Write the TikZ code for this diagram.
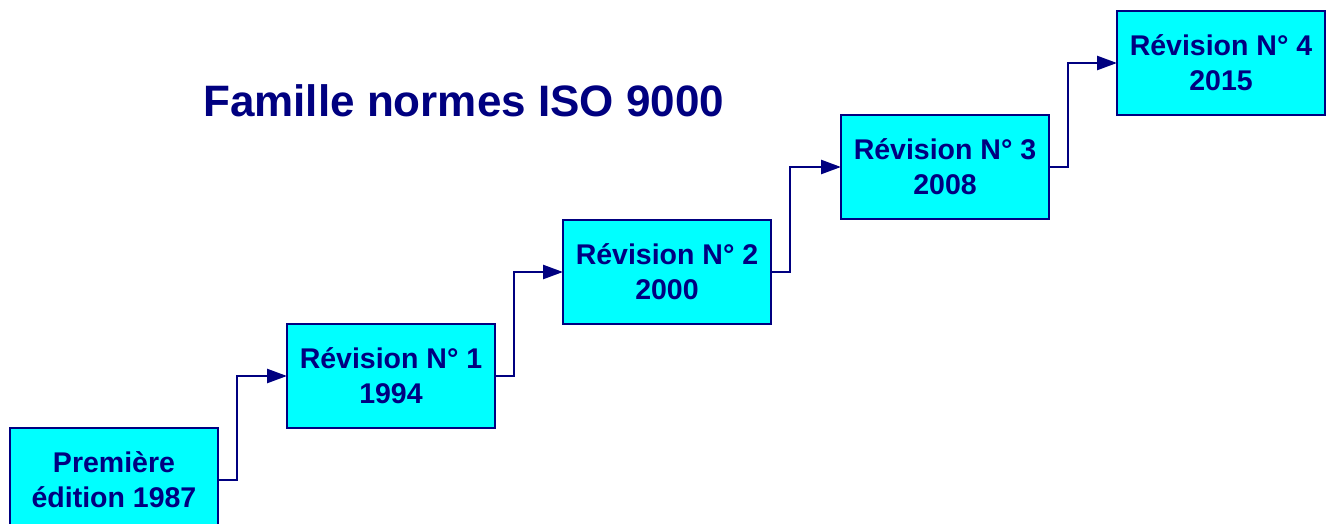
\documentclass[tikz,border=0pt]{standalone}
\usepackage{fontspec}
\setmainfont{Liberation Sans}
\usetikzlibrary{positioning,arrows.meta}
\definecolor{navy}{RGB}{0,0,128}
\definecolor{revfill}{RGB}{0,255,255}
\begin{document}
\begin{tikzpicture}[x=1pt,y=-1pt,
    rev/.style={shape=rectangle,draw=navy,fill=revfill,line width=2.5pt,
      minimum width=208pt,minimum height=104pt,inner sep=0pt,outer sep=0pt,
      align=center,text=navy,font=\bfseries\fontsize{28.5}{35}\selectfont},
    link/.style={draw=navy,line width=2.5pt,-{Triangle[length=20pt,width=14pt]}}]
    \useasboundingbox (0,0) rectangle (1330,524);
    \node[anchor=base west,text=navy,font=\bfseries\fontsize{44}{50}\selectfont,inner sep=0pt] (title) at (203,117) {Famille normes ISO 9000};
    \node[rev,anchor=north west] (ed0) at (10,428) {Première\\édition 1987};
    \node[rev,above right=0pt and 69pt of ed0.north east] (rev1) {Révision N° 1\\1994};
    \node[rev,above right=0pt and 68pt of rev1.north east] (rev2) {Révision N° 2\\2000};
    \node[rev,above right=1pt and 70pt of rev2.north east] (rev3) {Révision N° 3\\2008};
    \node[rev,above right=0pt and 68pt of rev3.north east] (rev4) {Révision N° 4\\2015};
    \draw[link] (ed0.east) -- ++(19,0) |- (rev1.west);
    \draw[link] (rev1.east) -- ++(19,0) |- (rev2.west);
    \draw[link] (rev2.east) -- ++(19,0) |- (rev3.west);
    \draw[link] (rev3.east) -- ++(19,0) |- (rev4.west);
\end{tikzpicture}
\end{document}
